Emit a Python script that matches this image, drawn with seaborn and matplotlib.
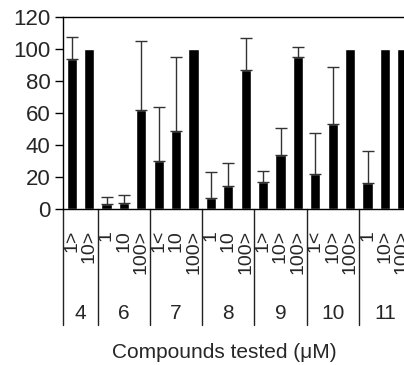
import numpy as np
import pandas as pd
import matplotlib
matplotlib.use("Agg")
import matplotlib.pyplot as plt
import seaborn as sns

# INPUT
groups = ["4", "6", "7", "8", "9", "10", "11"]
group_sizes = [2, 3, 3, 3, 3, 3, 3]
conc_labels = ["1>", "10>",
               "1", "10", "100>",
               "1<", "10", "100>",
               "1", "10", "100>",
               "1>", "10>", "100>",
               "1<", "10>", "100>",
               "1", "10>", "100>"]
means = [93.5, 100, 3, 4, 62, 30, 49, 100, 7, 14.5, 87, 17, 33.5, 95, 22, 53, 100, 16, 100, 100]
upper = [107.5, np.nan, 7.5, 8.5, 105, 64, 95, np.nan, 23, 28.5, 107, 23.5, 50.5, 101,
         47.5, 89, np.nan, 36, np.nan, np.nan]
x_label = "Compounds tested (\u03bcM)"

slot_ids = [f"{g}:{c}:{i}" for i, (g, c) in enumerate(
    zip(np.repeat(groups, group_sizes), conc_labels))]
df = pd.DataFrame({"slot": slot_ids, "value": means, "upper": upper})

sns.set_style("white")
plt.rcParams["font.family"] = ["Liberation Sans", "DejaVu Sans"]
fs = 15

fig = plt.figure(figsize=(4.04, 3.65), dpi=100)
ax = fig.add_axes([63 / 404, 1 - 209 / 365, 348 / 404, 192 / 365])

sns.barplot(data=df, x="slot", y="value", order=slot_ids, color="black",
            saturation=1, width=0.58, errorbar=None, ax=ax)

# upper error bars only
mask = df["upper"].notna().to_numpy()
xs = np.arange(len(df))[mask]
ax.errorbar(xs, df["value"][mask], yerr=[np.zeros(mask.sum()), (df["upper"] - df["value"])[mask]],
            fmt="none", ecolor="#333333", elinewidth=1, capsize=4, capthick=1, zorder=1)

ax.set_ylim(0, 120)
ax.set_xlim(-0.5, len(df) - 0.5)
ax.set_yticks(range(0, 121, 20))
ax.tick_params(axis="y", labelsize=16, left=True, length=6, width=1, color="black", pad=3)
ax.set_xticks([])
for s in ax.spines.values():
    s.set_color("black")
    s.set_linewidth(1)
ax.set_ylabel("")

trans = ax.get_xaxis_transform()
# group separators and table
bounds = np.concatenate([[0], np.cumsum(group_sizes)]) - 0.5
for b in bounds:
    ax.plot([b, b], [0, -0.604], transform=trans, color="#222222", lw=1, clip_on=False)
for i, lab in enumerate(conc_labels):
    ax.text(i, -0.11, lab, transform=trans, rotation=90, ha="center", va="top", fontsize=14)
for g, lo, hi in zip(groups, bounds[:-1], bounds[1:]):
    ax.text((lo + hi) / 2, -0.542, g, transform=trans, ha="center", va="center", fontsize=fs)

ax.set_xlabel(x_label, fontsize=fs, va="center")
ax.xaxis.set_label_coords(0.464, -0.75)

fig.savefig("out.png", dpi=100)
